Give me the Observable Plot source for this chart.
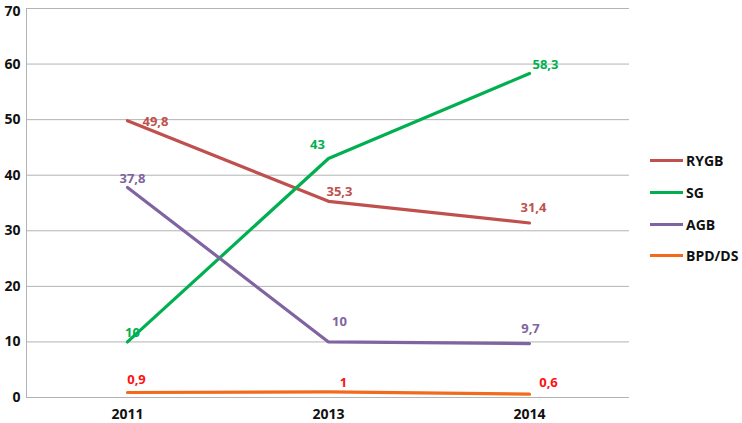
<!DOCTYPE html>
<html>
<head>
<meta charset="utf-8">
<script src="https://cdn.jsdelivr.net/npm/d3@7"></script>
<script src="https://cdn.jsdelivr.net/npm/@observablehq/plot@0.6"></script>
<style>
  html, body { margin: 0; padding: 0; background: #fff; }
  #wrap { position: relative; width: 742px; height: 423px; }
  #legend { position: absolute; left: 650px; top: 145px; font-family: "Open Sans", sans-serif; font-weight: 700; font-size: 14px; color: #111; }
  .item { display: flex; align-items: center; height: 31.7px; }
  .sw { width: 33px; height: 3px; margin-right: 3px; }
</style>
</head>
<body>
<div id="wrap"><div id="legend"></div></div>
<script>
const years = ["2011", "2013", "2014"];
const seriesNames = ["RYGB", "SG", "AGB", "BPD/DS"];
const RYGB = [49.8, 35.3, 31.4];
const SG = [10, 43, 58.3];
const AGB = [37.8, 10, 9.7];
const BPDDS = [0.9, 1, 0.6];
const yTicks = [0, 10, 20, 30, 40, 50, 60, 70];

const values = {"RYGB": RYGB, "SG": SG, "AGB": AGB, "BPD/DS": BPDDS};
const lineColors = {"RYGB": "#C0504D", "SG": "#00B050", "AGB": "#8064A2", "BPD/DS": "#F26B1D"};
const labelColors = {"RYGB": "#C0504D", "SG": "#00B050", "AGB": "#8064A2", "BPD/DS": "#FF1010"};
// label offsets in pixels relative to each point
const offsets = {
  "RYGB": [[28, 1], [11, -10], [4, -15]],
  "SG": [[5, -9], [-11, -14], [16, -9]],
  "AGB": [[5, -9], [11, -20], [1, -15]],
  "BPD/DS": [[9, -13], [15, -9], [19, -11]]
};

const rows = [];
for (const s of seriesNames) {
  years.forEach((yr, i) => rows.push({series: s, year: yr, value: values[s][i], idx: i}));
}
const fmt = v => String(v).replace(".", ",");

const labelMarks = rows.map(r => Plot.text([r], {
  x: "year", y: "value", text: d => fmt(d.value),
  dx: offsets[r.series][r.idx][0], dy: offsets[r.series][r.idx][1],
  fill: labelColors[r.series], fontSize: 13, fontWeight: 700
}));

const topTick = yTicks[yTicks.length - 1];
const chart = Plot.plot({
  width: 742,
  height: 423,
  marginLeft: 26,
  marginRight: 113,
  marginTop: 8,
  marginBottom: 26,
  style: {fontFamily: "Open Sans, sans-serif", background: "#fff"},
  x: {type: "point", domain: years, padding: 0.5, label: null},
  y: {domain: [0, 70], label: null},
  marks: [
    Plot.gridY(yTicks, {stroke: "#b3b3b3", strokeOpacity: 1, strokeWidth: 1}),
    Plot.axisY(yTicks.filter(t => t !== topTick), {tickSize: 0, tickPadding: 6, fontSize: 14, fontWeight: 700, fill: "#111", label: null}),
    Plot.axisY([topTick], {tickSize: 0, tickPadding: 6, dy: 3, fontSize: 14, fontWeight: 700, fill: "#111", label: null}),
    Plot.axisX(years, {tickSize: 0, tickPadding: 12, fontSize: 14, fontWeight: 700, fill: "#111", label: null}),
    ...seriesNames.map(s => Plot.line(rows.filter(r => r.series === s), {
      x: "year", y: "value", stroke: lineColors[s], strokeWidth: 3.2
    })),
    ...labelMarks
  ]
});
const wrap = document.getElementById("wrap");
wrap.insertBefore(chart, wrap.firstChild);

// left axis line
const svg = d3.select(chart);
svg.append("line").attr("x1", 26.5).attr("x2", 26.5).attr("y1", 8).attr("y2", 397).attr("stroke", "#b3b3b3");

const legend = document.getElementById("legend");
for (const s of seriesNames) {
  const it = document.createElement("div");
  it.className = "item";
  it.innerHTML = `<div class="sw" style="background:${lineColors[s]}"></div><span>${s}</span>`;
  legend.appendChild(it);
}
</script>
</body>
</html>
